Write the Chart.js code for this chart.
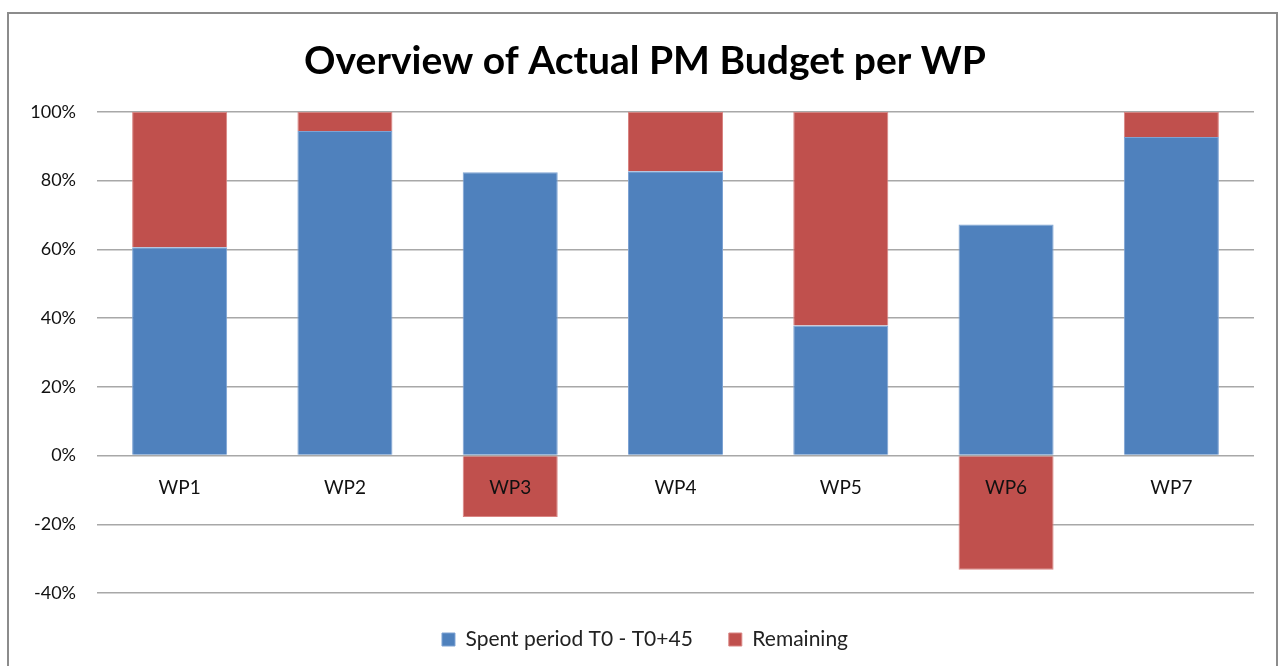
<!DOCTYPE html>
<html>
<head>
<meta charset="utf-8">
<script src="https://cdn.jsdelivr.net/npm/chart.js@4/dist/chart.umd.min.js"></script>
<style>
  html, body { margin: 0; padding: 0; background: #fff; }
  #wrap { position: relative; width: 1280px; height: 666px; overflow: hidden; }
  #frame { position: absolute; left: 7px; top: 12px; width: 1271px; height: 700px; border: 2px solid #8c8c8c; box-sizing: border-box; }
  canvas { position: absolute; left: 0; top: 0; }
</style>
</head>
<body>
<div id="wrap">
  <div id="frame"></div>
  <canvas id="c" width="1280" height="666"></canvas>
</div>
<script>
const categories = ['WP1', 'WP2', 'WP3', 'WP4', 'WP5', 'WP6', 'WP7'];
const spentValues = [60.6, 94.4, 82.4, 82.7, 37.8, 67.2, 92.7];
const remainingValues = [39.4, 5.6, -17.9, 17.3, 62.2, -33.2, 7.3];
const seriesNames = ['Spent period T0 - T0+45', 'Remaining'];
const titleText = 'Overview of Actual PM Budget per WP';

const FONT = 'Lato, "Open Sans", sans-serif';

// keep the legend box at a fixed height so the plot area ends where it should
const legendHeightPlugin = {
  id: 'legendHeight',
  beforeInit(chart) {
    const lg = chart.legend;
    if (!lg) return;
    const origFit = lg.fit.bind(lg);
    lg.fit = function () {
      origFit();
      if (this.isHorizontal()) this.height = 73;
    };
  }
};

new Chart(document.getElementById('c'), {
  type: 'bar',
  data: {
    labels: categories,
    datasets: [
      { label: seriesNames[0], data: spentValues, backgroundColor: '#4F81BD', borderColor: '#7ea3d3', borderWidth: 1, barPercentage: 0.575, categoryPercentage: 1 },
      { label: seriesNames[1], data: remainingValues, backgroundColor: '#C0504D', borderColor: '#d98583', borderWidth: 1, barPercentage: 0.575, categoryPercentage: 1 }
    ]
  },
  plugins: [legendHeightPlugin],
  options: {
    responsive: false,
    animation: false,
    devicePixelRatio: 1,
    layout: { padding: { left: 10, right: 0, top: 0, bottom: 0 } },
    plugins: {
      title: {
        display: true,
        text: titleText,
        color: '#000',
        font: { family: FONT, size: 39, weight: 'bold' },
        padding: { top: 38, bottom: 27 }
      },
      legend: {
        position: 'bottom',
        labels: {
          color: '#222',
          font: { family: FONT, size: 21 },
          boxWidth: 13,
          boxHeight: 13,
          padding: 36
        }
      },
      tooltip: { enabled: false }
    },
    scales: {
      x: {
        stacked: true,
        position: { y: 0 },
        grid: { display: false },
        border: { display: false },
        ticks: { z: 1, color: '#111', font: { family: FONT, size: 19 }, padding: 13 }
      },
      y: {
        stacked: true,
        min: -40,
        max: 100,
        afterFit: s => { s.width = 87; },
        grid: { color: '#a8a8a8', lineWidth: 1.5, drawTicks: false },
        border: { display: false },
        ticks: {
          stepSize: 20,
          color: '#111',
          font: { family: FONT, size: 18 },
          padding: 21,
          callback: v => v + '%'
        }
      },
      yRight: {
        position: 'right',
        display: true,
        min: 0,
        max: 1,
        afterFit: s => { s.width = 26; },
        grid: { display: false },
        border: { display: false },
        ticks: { display: false }
      }
    }
  }
});
</script>
</body>
</html>
